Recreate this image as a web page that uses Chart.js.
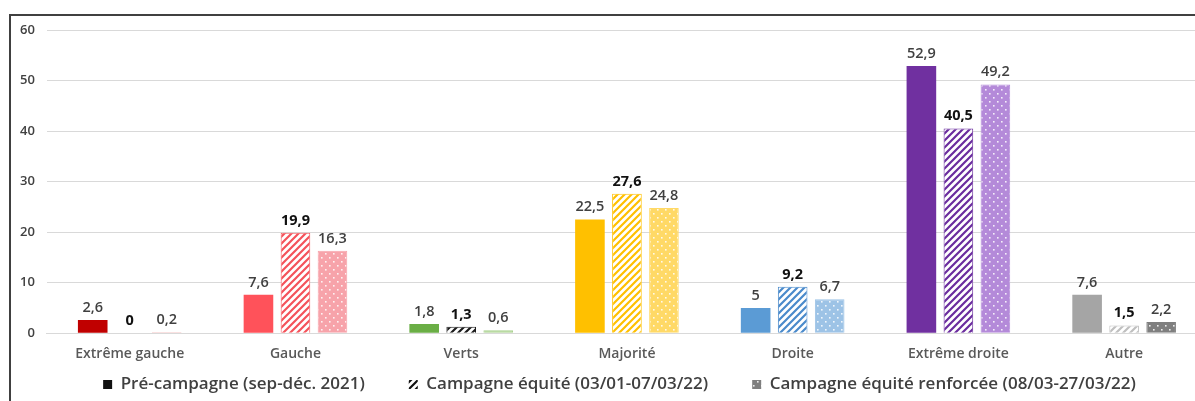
<!DOCTYPE html>
<html>
<head>
<meta charset="utf-8">
<script src="https://cdn.jsdelivr.net/npm/chart.js@4"></script>
<style>
  html, body { margin: 0; padding: 0; background: #fff; overflow: hidden; }
  #wrap { width: 1207px; height: 401px; position: relative; }
</style>
</head>
<body>
<div id="wrap"><canvas id="myChart"></canvas></div>
<script>
// data
const categories = ['Extrême gauche', 'Gauche', 'Verts', 'Majorité', 'Droite', 'Extrême droite', 'Autre'];
const preCampagne = [2.6, 7.6, 1.8, 22.5, 5, 52.9, 7.6];
const campagneEquite = [0, 19.9, 1.3, 27.6, 9.2, 40.5, 1.5];
const campagneRenforcee = [0.2, 16.3, 0.6, 24.8, 6.7, 49.2, 2.2];
const seriesNames = ['Pré-campagne (sep-déc. 2021)', 'Campagne équité (03/01-07/03/22)', 'Campagne équité renforcée (08/03-27/03/22)'];
const yTicks = [0, 10, 20, 30, 40, 50, 60];

// colours per category
const solidColors = ['#C00000', '#FF525A', '#6AAE45', '#FFC000', '#5B9BD5', '#7030A0', '#A5A5A5'];
const stripeColors = ['#C00000', '#F4525A', '#1A1A1A', '#FFC000', '#4A8ACB', '#6A2C9E', '#BFBFBF'];
const dotColors = ['#E88080', '#F7A3AA', '#A9D18E', '#FFD966', '#9DC3E6', '#B48AD9', '#7F7F7F'];

function stripes(color) {
  var c = document.createElement('canvas');
  c.width = 7; c.height = 7;
  var g = c.getContext('2d');
  g.fillStyle = '#fff';
  g.fillRect(0, 0, 7, 7);
  g.strokeStyle = color;
  g.lineWidth = 2.2;
  g.beginPath();
  for (var k = -7; k <= 14; k += 7) {
    g.moveTo(k - 1, 8);
    g.lineTo(k + 8, -1);
  }
  g.stroke();
  return g.createPattern(c, 'repeat');
}

function dots(color) {
  var c = document.createElement('canvas');
  c.width = 8; c.height = 8;
  var g = c.getContext('2d');
  g.fillStyle = color;
  g.fillRect(0, 0, 8, 8);
  g.fillStyle = 'rgba(255,255,255,0.85)';
  g.fillRect(1, 1, 1.6, 1.6);
  g.fillRect(5, 5, 1.6, 1.6);
  return g.createPattern(c, 'repeat');
}

const fmt = v => String(v).replace('.', ',');

const frame = {
  id: 'frame',
  afterLayout(chart) {
    // nudge the legend: wide item gaps, centred a bit right as in the picture
    var lg = chart.legend;
    if (!lg) return;
    var dy = 387 - (lg.top + 44 + 11);
    lg.top += dy; lg.bottom += dy;
    lg.left += 12; lg.right += 12;
  },
  afterDraw(chart) {
    var ctx = chart.ctx;
    ctx.save();
    ctx.strokeStyle = '#404040';
    ctx.lineWidth = 2;
    ctx.strokeRect(10, 15, 1250, 420);
    ctx.restore();
  }
};

const valueLabels = {
  id: 'valueLabels',
  afterDatasetsDraw(chart) {
    var ctx = chart.ctx;
    ctx.save();
    ctx.textAlign = 'center';
    ctx.textBaseline = 'bottom';
    chart.data.datasets.forEach(function(ds, i) {
      var meta = chart.getDatasetMeta(i);
      meta.data.forEach(function(bar, j) {
        ctx.font = (i === 1 ? 'bold ' : '600 ') + '14.5px "Open Sans"';
        ctx.fillStyle = i === 1 ? '#111' : '#404040';
        ctx.fillText(fmt(ds.data[j]), bar.x, bar.y - 5);
      });
    });
    ctx.restore();
  }
};

new Chart('myChart', {
  type: 'bar',
  data: {
    labels: categories,
    datasets: [{
      label: seriesNames[0],
      data: preCampagne,
      backgroundColor: solidColors,
      borderColor: solidColors,
      borderWidth: 0
    }, {
      label: seriesNames[1],
      data: campagneEquite,
      backgroundColor: stripeColors.map(stripes),
      borderColor: stripeColors,
      borderWidth: 1
    }, {
      label: seriesNames[2],
      data: campagneRenforcee,
      backgroundColor: dotColors.map(dots),
      borderColor: dotColors,
      borderWidth: 1
    }]
  },
  options: {
    responsive: true,
    maintainAspectRatio: false,
    animation: false,
    categoryPercentage: 0.67,
    barPercentage: 0.8,
    layout: { padding: { left: 8, right: 0, top: 30, bottom: -36 } },
    scales: {
      x: {
        grid: { display: false },
        border: { color: '#D9D9D9' },
        ticks: { color: '#595959', font: { family: 'Open Sans', size: 14, weight: '600' }, padding: 4 }
      },
      y: {
        min: 0, max: 60,
        afterBuildTicks: axis => { axis.ticks = yTicks.map(v => ({ value: v })); },
        grid: { color: '#D9D9D9', drawTicks: false },
        border: { display: false },
        ticks: { color: '#404040', font: { family: 'Open Sans', size: 13, weight: '600' }, padding: 12 }
      }
    },
    plugins: {
      tooltip: { enabled: false },
      legend: {
        position: 'bottom',
        labels: {
          color: '#404040',
          font: { family: 'Open Sans', size: 17, weight: '600' },
          boxWidth: 9, boxHeight: 9, padding: 44,
          generateLabels: chart => seriesNames.map((n, i) => ({
            text: n,
            fillStyle: [ '#111', stripes('#111'), dots('#7F7F7F') ][i],
            strokeStyle: '#111',
            fontColor: '#404040',
            lineWidth: 0,
            datasetIndex: i
          }))
        }
      }
    }
  },
  plugins: [frame, valueLabels]
});
</script>
</body>
</html>
